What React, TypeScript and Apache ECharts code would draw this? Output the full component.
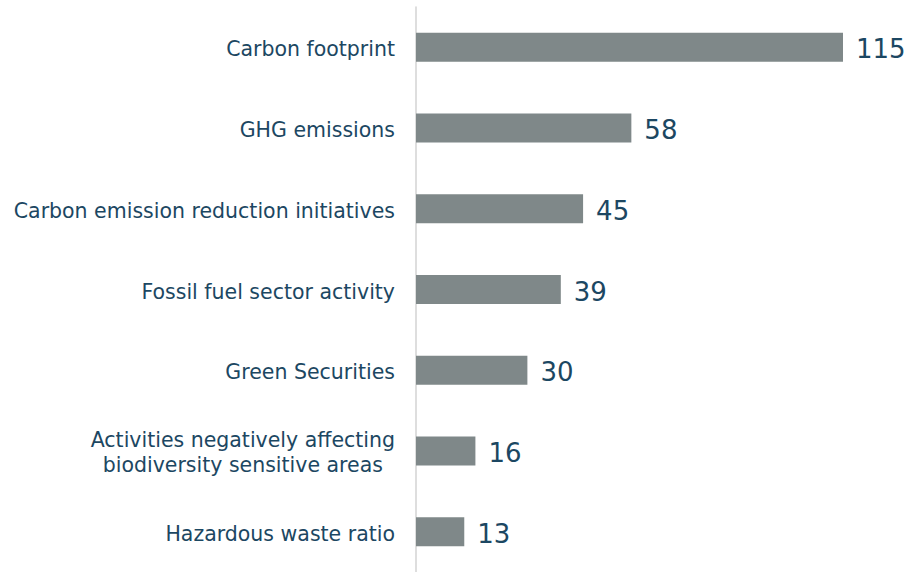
import React, { useEffect, useRef } from "react";
import * as echarts from "echarts";

const categories = [
  "Carbon footprint",
  "GHG emissions",
  "Carbon emission reduction initiatives",
  "Fossil fuel sector activity",
  "Green Securities",
  "Activities negatively affecting\nbiodiversity sensitive areas",
  "Hazardous waste ratio",
];
const values = [115, 58, 45, 39, 30, 16, 13];

const TEXT = "#1c4762";
const BAR = "#7f8889";
const FONT = "DejaVu Sans";
const CAT_SIZE = 20.5;

function measure(t: string, size: number): number {
  const c = document.createElement("canvas").getContext("2d");
  if (!c) return t.length * size * 0.55;
  c.font = `${size}px "${FONT}"`;
  return c.measureText(t).width;
}

export default function App() {
  const ref = useRef<HTMLDivElement>(null);
  useEffect(() => {
    if (!ref.current) return;
    const chart = echarts.init(ref.current, undefined, { renderer: "svg" });
    const multiW = Math.max(
      ...categories
        .filter((c) => c.includes("\n"))
        .flatMap((c) => c.split("\n"))
        .map((l) => measure(l, CAT_SIZE))
    );
    chart.setOption({
      animation: false,
      grid: { left: 416, right: 66, top: 7, bottom: -3 },
      xAxis: {
        type: "value",
        min: 0,
        max: 115,
        show: false,
      },
      yAxis: {
        type: "category",
        inverse: true,
        data: categories,
        axisLine: { show: true, lineStyle: { color: "#d3d3d3", width: 1.5 } },
        axisTick: { show: false },
        axisLabel: {
          margin: 21,
          color: TEXT,
          fontFamily: FONT,
          fontSize: CAT_SIZE,
          lineHeight: 25,
          padding: [4, 0, 0, 0],
          formatter: (v: string) =>
            v.includes("\n")
              ? v
                  .split("\n")
                  .map((l) => `{c|${l}}`)
                  .join("\n")
              : v,
          rich: {
            c: {
              width: multiW,
              align: "center",
              color: TEXT,
              fontFamily: FONT,
              fontSize: CAT_SIZE,
              lineHeight: 25,
            },
          },
        },
      },
      series: [
        {
          type: "bar",
          data: values,
          barWidth: 29,
          itemStyle: { color: BAR },
          label: {
            show: true,
            position: "right",
            distance: 13,
            offset: [0, 2],
            color: TEXT,
            fontFamily: FONT,
            fontSize: 26,
          },
        },
      ],
    });
    return () => chart.dispose();
  }, []);
  return (
    <div
      ref={ref}
      style={{ position: "fixed", left: 0, top: 0, width: 909, height: 572, background: "#fff" }}
    />
  );
}
